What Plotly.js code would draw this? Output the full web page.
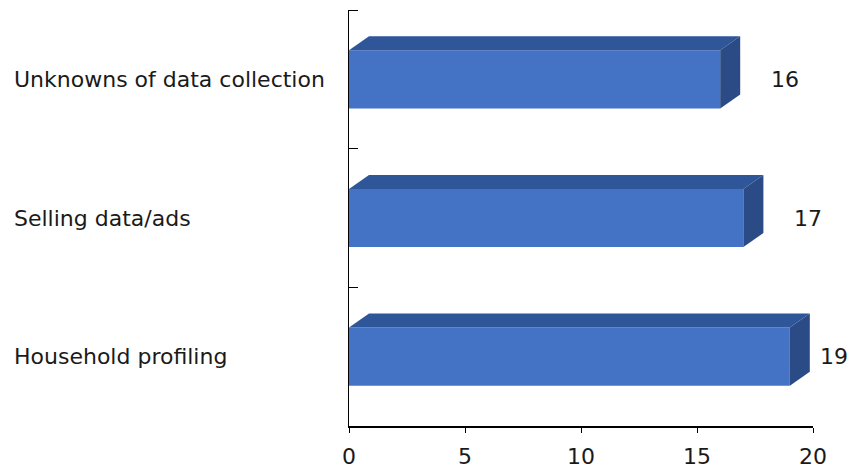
<!DOCTYPE html>
<html>
<head>
<meta charset="utf-8">
<script src="https://cdn.plot.ly/plotly-3.0.1.min.js"></script>
<style>html,body{margin:0;padding:0;background:#fff;}</style>
</head>
<body>
<div id="chart" style="width:850px;height:468px;"></div>
<script>
const categories = ['Household profiling', 'Selling data/ads', 'Unknowns of data collection'];
const values = [19, 17, 16];
const xTicks = [0, 5, 10, 15, 20];

const W = 850, H = 468;
const margin = {l: 349, r: 37, t: 10, b: 42};
const xRange = [0, 20];
const yRange = [-0.5, 2.5];
const barWidth = 0.42;
const depthPx = {x: 20, y: 14};
const plotW = W - margin.l - margin.r;
const plotH = H - margin.t - margin.b;

const frontColor = '#4472C4';
const topColor = '#30569A';
const sideColor = '#2A4B86';
const font = 'DejaVu Sans, Verdana, sans-serif';
const fontSize = 22;
const textColor = '#1a1a1a';

const yPos = categories.map((_, i) => i);
const xp = v => (v - xRange[0]) / (xRange[1] - xRange[0]);
const dxp = depthPx.x / plotW;
const dy = depthPx.y / plotH * (yRange[1] - yRange[0]);

const shapes = [];
const annotations = [];
values.forEach((v, i) => {
  const y = yPos[i];
  const top = y + barWidth / 2, bot = y - barWidth / 2;
  shapes.push({
    type: 'path', xref: 'paper', yref: 'y', layer: 'above',
    path: `M ${xp(0)} ${top} L ${xp(0) + dxp} ${top + dy} L ${xp(v) + dxp} ${top + dy} L ${xp(v)} ${top} Z`,
    fillcolor: topColor, line: {width: 0}
  });
  shapes.push({
    type: 'path', xref: 'paper', yref: 'y', layer: 'above',
    path: `M ${xp(v)} ${top} L ${xp(v) + dxp} ${top + dy} L ${xp(v) + dxp} ${bot + dy} L ${xp(v)} ${bot} Z`,
    fillcolor: sideColor, line: {width: 0}
  });
  const endPx = margin.l + xp(v) * plotW;
  const labelW = 30;
  const shift = Math.min(49, (W - 2 - labelW) - endPx);
  annotations.push({
    x: v, y: y, xref: 'x', yref: 'y', text: String(v),
    xanchor: 'left', yanchor: 'middle', xshift: shift, showarrow: false,
    font: {family: font, size: fontSize, color: textColor}
  });
});

// left-aligned category labels
categories.forEach((c, i) => {
  annotations.push({
    x: (12 - margin.l) / plotW, y: yPos[i], xref: 'paper', yref: 'y', text: c,
    xanchor: 'left', yanchor: 'middle', showarrow: false,
    font: {family: font, size: fontSize, color: textColor}
  });
});

const trace = {
  type: 'bar', orientation: 'h',
  x: values, y: yPos, width: barWidth,
  marker: {color: frontColor, line: {width: 0}},
  hoverinfo: 'skip'
};

const layout = {
  width: W, height: H, margin: margin,
  paper_bgcolor: '#fff', plot_bgcolor: '#fff',
  showlegend: false,
  font: {family: font, size: fontSize, color: textColor},
  xaxis: {
    range: xRange, tickvals: xTicks, ticktext: xTicks.map(String),
    showgrid: false, zeroline: false, showline: true, linecolor: '#000', linewidth: 1.5,
    ticks: 'outside', ticklen: 5, tickcolor: '#000', tickwidth: 1,
    ticklabelstandoff: 5,
    tickfont: {family: font, size: fontSize, color: textColor}, fixedrange: true
  },
  yaxis: {
    range: yRange, tickvals: yPos, showticklabels: false,
    showgrid: false, zeroline: false, showline: true, linecolor: '#000', linewidth: 1.5,
    ticks: '',
    minor: {tick0: -0.5, dtick: 1, ticks: 'inside', ticklen: 9, tickcolor: '#000', tickwidth: 1, showgrid: false},
    fixedrange: true
  },
  shapes: shapes,
  annotations: annotations
};

Plotly.newPlot('chart', [trace], layout, {staticPlot: true, displayModeBar: false});
</script>
</body>
</html>
